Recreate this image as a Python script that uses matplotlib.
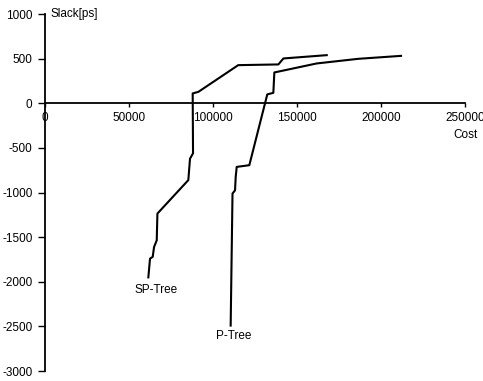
import matplotlib
matplotlib.use("Agg")
import matplotlib.pyplot as plt

plt.rcParams['font.family'] = ['Liberation Sans', 'DejaVu Sans']

# curvas (custo x folga em ps)
sp_cost = [61500, 62500, 64100, 64900, 66500, 66900, 85300, 86300, 88100, 87900,
           91300, 115000, 138900, 141900, 167700]
sp_slack = [-1950, -1740, -1720, -1610, -1535, -1235, -860, -620, -560, 111,
            129, 428, 436, 503, 540]

p_cost = [110500, 111600, 113100, 113500, 114100, 121600, 132300, 135900,
          136500, 161700, 186500, 211900]
p_slack = [-2490, -1010, -975, -825, -712, -693, 100, 118, 346, 447, 499, 532]

x_ticks = [0, 50000, 100000, 150000, 200000, 250000]
y_ticks = [-3000, -2500, -2000, -1500, -1000, -500, 0, 500, 1000]

fig = plt.figure(figsize=(4.83, 3.81), dpi=100)
ax = fig.add_axes([0.0932, 0.026, 0.8696, 0.937])

ax.plot(sp_cost, sp_slack, color='black', lw=1.5)
ax.plot(p_cost, p_slack, color='black', lw=1.5)

ax.set_xlim(0, 250000)
ax.set_ylim(-3000, 1000)

ax.spines['left'].set_position(('data', 0))
ax.spines['bottom'].set_position(('data', 0))
ax.spines['right'].set_visible(False)
ax.spines['top'].set_visible(False)
ax.spines['left'].set_linewidth(1.3)
ax.spines['bottom'].set_linewidth(1.3)

ax.set_xticks(x_ticks)
ax.set_xticklabels([str(v) for v in x_ticks])
ax.set_yticks(y_ticks)
ax.set_yticklabels([str(v) for v in y_ticks])
ax.tick_params(axis='x', direction='out', length=3, width=1, pad=3, labelsize=8.5)
ax.tick_params(axis='y', direction='out', length=5, width=1, pad=4, labelsize=8.5)

ax.text(3000, 1000, 'Slack[ps]', fontsize=8.5, ha='left', va='center')
ax.text(250000, -360, 'Cost', fontsize=8.5, ha='center', va='center')
ax.text(65800, -2096, 'SP-Tree', fontsize=8.5, ha='center', va='center')
ax.text(112500, -2610, 'P-Tree', fontsize=8.5, ha='center', va='center')

fig.savefig('out.png', dpi=100)
